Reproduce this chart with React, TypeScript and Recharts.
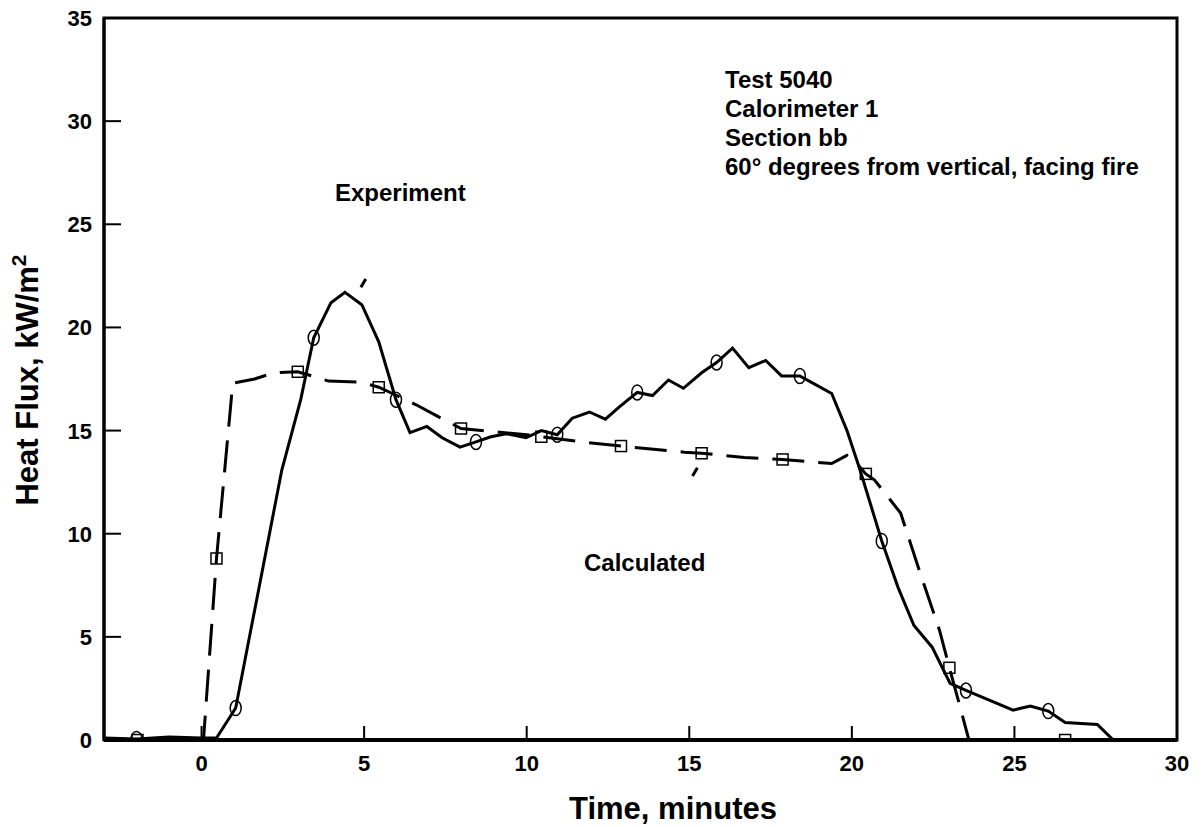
import React from "react"
import {
  LineChart,
  Line,
  XAxis,
  YAxis,
  ReferenceArea,
  ReferenceLine,
  Customized,
} from "recharts"

// Experiment (solid line, circle markers)
const expTime = [
  -3, -2, -1, 0, 0.46, 1.05, 2.47, 3.05, 3.45, 3.98, 4.41, 4.93, 5.45, 5.98, 6.41, 6.93, 7.4, 7.95,
  8.44, 8.9, 9.37, 9.98, 10.45, 10.94, 11.4, 11.93, 12.42, 12.85, 13.4, 13.87, 14.36, 14.82, 15.38,
  15.84, 16.33, 16.83, 17.35, 17.84, 18.4, 18.8, 19.38, 19.85, 20.25, 20.92, 21.42, 21.91, 22.47,
  23.02, 23.51, 24.96, 25.49, 26.04, 26.56, 27.55, 28.04, 30,
]
const expFlux = [
  0.1, 0.05, 0.15, 0.1, 0.1, 1.55, 13.1, 16.5, 19.5, 21.2, 21.7, 21.1, 19.3, 16.5, 14.9, 15.2, 14.65,
  14.2, 14.45, 14.7, 14.85, 14.65, 15.0, 14.8, 15.6, 15.9, 15.55, 16.15, 16.85, 16.7, 17.45, 17.05,
  17.8, 18.3, 19.0, 18.05, 18.4, 17.65, 17.65, 17.3, 16.8, 15.0, 13.1, 9.65, 7.4, 5.55, 4.5, 2.75,
  2.4, 1.45, 1.65, 1.4, 0.85, 0.75, 0, 0,
]
const expMarkers = [1, 5, 8, 13, 18, 23, 28, 33, 38, 43, 48, 51]

// Calculated (dashed line, square markers)
const calcTime = [
  -3, -1.97, 0.06, 0.46, 0.96, 1.63, 2.22, 2.96, 3.91, 4.9, 5.45, 6.0, 6.6, 7.25, 7.98, 8.94, 10.0,
  10.45, 11.7, 12.9, 14.85, 15.38, 16.7, 17.87, 19.38, 19.85, 20.15, 20.43, 20.7, 21.5, 22.1, 22.7,
  23.0, 23.33, 23.6, 26.56, 30,
]
const calcFlux = [
  0, 0, 0, 8.8, 17.3, 17.5, 17.8, 17.85, 17.4, 17.35, 17.1, 16.7, 16.25, 15.7, 15.1, 14.95, 14.8,
  14.7, 14.45, 14.25, 13.95, 13.9, 13.7, 13.6, 13.4, 13.8, 13.4, 12.9, 12.6, 11.0, 8.1, 5.3, 3.5,
  1.6, 0, 0, 0,
]
const calcMarkers = [1, 3, 7, 10, 14, 17, 19, 21, 23, 27, 32, 35]

const xTicks = [0, 5, 10, 15, 20, 25, 30]
const yTicks = [0, 5, 10, 15, 20, 25, 30, 35]

const noteLines = [
  "Test 5040",
  "Calorimeter 1",
  "Section bb",
  "60° degrees from vertical, facing fire",
]

const expData = expTime.map((t, i) => ({ t, v: expFlux[i] }))
const calcData = calcTime.map((t, i) => ({ t, v: calcFlux[i] }))

const FONT = "'Liberation Sans', Arial, Helvetica, sans-serif"

const XTick = ({ x, y, payload }: any) => (
  <g>
    <line x1={x} x2={x} y1={y} y2={y - 14} stroke="#000" strokeWidth={2} />
    <text x={x} y={y + 31} textAnchor="middle" fontSize={22} fontWeight="bold" fontFamily={FONT} fill="#000">
      {payload.value}
    </text>
  </g>
)

const YTick = ({ x, y, payload }: any) => (
  <g>
    <line x1={x} x2={x + 17} y1={y} y2={y} stroke="#000" strokeWidth={2} />
    <text x={x - 12} y={y + 8} textAnchor="end" fontSize={22} fontWeight="bold" fontFamily={FONT} fill="#000">
      {payload.value}
    </text>
  </g>
)

const circleDot = (props: any) => {
  const { cx, cy, index } = props
  if (!expMarkers.includes(index)) return <g key={`e-${index}`} />
  return <ellipse key={`e-${index}`} cx={cx} cy={cy} rx={5.5} ry={7.5} fill="none" stroke="#000" strokeWidth={1.5} />
}

const squareDot = (props: any) => {
  const { cx, cy, index } = props
  if (!calcMarkers.includes(index)) return <g key={`c-${index}`} />
  return <rect key={`c-${index}`} x={cx - 5.5} y={cy - 5.5} width={11} height={11} fill="none" stroke="#000" strokeWidth={1.5} />
}

const Texts = () => (
  <g fontFamily={FONT} fontWeight="bold" fill="#000">
    {noteLines.map((s, i) => (
      <text key={s} x={725} y={88 + i * 29} fontSize={24}>
        {s}
      </text>
    ))}
    <text x={335} y={201} fontSize={24}>Experiment</text>
    <text x={584} y={571} fontSize={24}>Calculated</text>
    <text x={673} y={819} fontSize={31} textAnchor="middle">Time, minutes</text>
    <text x={38} y={380} fontSize={31} textAnchor="middle" transform="rotate(-90 38 380)">
      Heat Flux, kW/m<tspan fontSize={21} dy={-12}>2</tspan>
    </text>
  </g>
)

export default function App() {
  return (
    <div style={{ width: 1204, height: 827, background: "#fff" }}>
      <style>{`body{margin:0;background:#fff}`}</style>
      <LineChart width={1204} height={827} margin={{ top: 18, right: 27, bottom: 0, left: 0 }}>
        <XAxis
          type="number"
          dataKey="t"
          domain={[-3, 30]}
          ticks={xTicks}
          height={87}
          tickSize={0}
          tickMargin={0}
          tick={<XTick />}
          tickLine={false}
          axisLine={{ stroke: "#000", strokeWidth: 4 }}
          allowDataOverflow
        />
        <YAxis
          type="number"
          domain={[0, 35]}
          ticks={yTicks}
          width={104}
          tickSize={0}
          tickMargin={0}
          tick={<YTick />}
          tickLine={false}
          axisLine={{ stroke: "#000", strokeWidth: 3 }}
          allowDataOverflow
        />
        <ReferenceArea x1={-3} x2={30} y1={0} y2={35} fill="none" stroke="#000" strokeWidth={3} />
        <ReferenceLine segment={[{ x: 4.9, y: 21.95 }, { x: 5.05, y: 22.35 }]} stroke="#000" strokeWidth={3} />
        <ReferenceLine segment={[{ x: 15.1, y: 12.8 }, { x: 15.25, y: 13.2 }]} stroke="#000" strokeWidth={3} />
        <Line
          data={calcData}
          dataKey="v"
          stroke="#000"
          strokeWidth={3}
          strokeDasharray="32 14"
          dot={squareDot}
          activeDot={false}
          isAnimationActive={false}
        />
        <Line
          data={expData}
          dataKey="v"
          stroke="#000"
          strokeWidth={3}
          dot={circleDot}
          activeDot={false}
          isAnimationActive={false}
        />
        <Customized component={Texts} />
      </LineChart>
    </div>
  )
}
